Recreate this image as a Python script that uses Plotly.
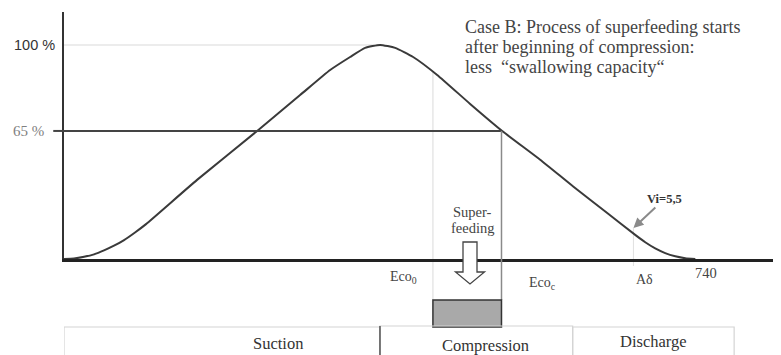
import plotly.graph_objects as go

# ---- data ----
crank_angle = [0, 11.5, 23.1, 34.6, 46.1, 57.6, 69.2, 81.8, 94.5, 153.3, 222.5, 272.0,
               306.6, 329.6, 346.9, 364.2, 381.5, 402.2, 429.9, 467.9, 504.8, 548.6, 586.6,
               625.8, 658.8, 669.6, 681.1, 692.6, 704.2, 715.7, 727.3]
capacity = [12.9, 13.1, 13.8, 14.8, 16.4, 18.3, 20.6, 23.7, 27.1, 45.1, 65.0, 79.6,
            89.8, 95.1, 98.8, 100.0, 98.8, 95.1, 87.8, 76.0, 65.0, 53.3, 42.4,
            31.6, 22.5, 19.7, 17.2, 15.3, 14.0, 13.2, 12.9]

y_tick_vals = [100, 65]
y_tick_text = ["100 %", "65 %"]

x_label_pos = [391, 551, 669, 740]
x_label_text = ["Eco<sub>0</sub>", "Eco<sub>c</sub>", "A\u03b4", "740"]

phase_names = ["Suction", "Compression", "Discharge"]
phase_bounds = [0, 364, 586, 772]

superfeed_start = 425
superfeed_end = 504
a_delta_angle = 656
vi_label = "Vi=5,5"
vi_point = (656, 25.5)
title_lines = ["Case B: Process of superfeeding starts",
               "after beginning of compression:",
               "less  \u201cswallowing capacity\u201c"]
superfeed_lines = ["Super-", "feeding"]

X_RANGE = [0, 826]
Y_RANGE = [12.9, 113.4]
DEG_PER_PX = (X_RANGE[1] - X_RANGE[0]) / 717.0


def yp(v):
    return (v - Y_RANGE[0]) / (Y_RANGE[1] - Y_RANGE[0])


def p(py):
    # page pixel row -> paper coordinate (plot area spans rows 12..259)
    return (259 - py) / 247.0


def xd(px):
    # page pixel column -> axis units (plot area starts at column 64)
    return (px - 64) * DEG_PER_PX


SERIF = "Liberation Serif"
SANS = "Liberation Sans"

fig = go.Figure()
fig.add_trace(go.Scatter(x=crank_angle, y=capacity, mode="lines",
                         line=dict(color="#3a3a3a", width=2, shape="spline", smoothing=0.5),
                         hoverinfo="skip", showlegend=False))

shapes = []
shapes.append(dict(type="line", xref="x", yref="y", x0=0, x1=364, y0=100, y1=100,
                   line=dict(color="#e6e6e6", width=1.5), layer="below"))
shapes.append(dict(type="line", xref="x", yref="y", x0=0, x1=superfeed_end, y0=65, y1=65,
                   line=dict(color="#444444", width=2)))
shapes.append(dict(type="line", xref="paper", yref="y", x0=-0.015, x1=0, y0=65, y1=65,
                   line=dict(color="#444444", width=2)))
shapes.append(dict(type="line", xref="x", yref="paper", x0=superfeed_end, x1=superfeed_end,
                   y0=yp(65), y1=p(300), line=dict(color="#8a8a8a", width=1.5)))
shapes.append(dict(type="line", xref="x", yref="paper", x0=superfeed_start, x1=superfeed_start,
                   y0=yp(89), y1=p(300), line=dict(color="#e0e0e0", width=1.2), layer="below"))
shapes.append(dict(type="line", xref="x", yref="paper", x0=a_delta_angle, x1=a_delta_angle,
                   y0=yp(vi_point[1]), y1=p(266), line=dict(color="#e0e0e0", width=1), layer="below"))
shapes.append(dict(type="rect", xref="x", yref="paper", x0=superfeed_start, x1=superfeed_end,
                   y0=p(300), y1=p(327), fillcolor="#a9a9a9",
                   line=dict(color="#333333", width=1.5)))
box_top = [327, 326, 327]
for i, name in enumerate(phase_names):
    shapes.append(dict(type="rect", xref="x", yref="paper", x0=phase_bounds[i], x1=phase_bounds[i + 1],
                       y0=p(box_top[i]), y1=p(365), fillcolor="rgba(0,0,0,0)",
                       line=dict(color="#d4d4d4", width=1.2)))
shapes.append(dict(type="line", xref="x", yref="paper", x0=phase_bounds[1], x1=phase_bounds[1],
                   y0=p(326), y1=p(360), line=dict(color="#555555", width=1.5)))
# hollow down arrow
ac = xd(470)
sw, hw = 7 * DEG_PER_PX, 14.5 * DEG_PER_PX
path = (f"M {ac - sw},{p(242)} L {ac + sw},{p(242)} L {ac + sw},{p(272)} L {ac + hw},{p(272)} "
        f"L {ac},{p(284)} L {ac - hw},{p(272)} L {ac - sw},{p(272)} Z")
shapes.append(dict(type="path", xref="x", yref="paper", path=path, fillcolor="white",
                   line=dict(color="#444444", width=1.3)))

annotations = []
annotations.append(dict(x=-0.041, y=y_tick_vals[0], xref="paper", yref="y", text=y_tick_text[0],
                        showarrow=False, xanchor="center", yanchor="middle",
                        font=dict(family=SANS, size=14.5, color="#333333")))
annotations.append(dict(x=-0.049, y=y_tick_vals[1], xref="paper", yref="y", text=y_tick_text[1],
                        showarrow=False, xanchor="center", yanchor="middle",
                        font=dict(family=SERIF, size=15, color="#808080")))
x_label_py = [277, 283, 279, 273]
x_label_size = [14, 14, 14, 14.5]
for xv, t, py, fs in zip(x_label_pos, x_label_text, x_label_py, x_label_size):
    annotations.append(dict(x=xv, y=p(py), xref="x", yref="paper", text=t, showarrow=False,
                            xanchor="center", yanchor="middle",
                            font=dict(family=SERIF, size=fs, color="#444444")))
phase_label_x = [278, 485, 653]
phase_label_py = [343, 345, 341]
for name, xp_, py in zip(phase_names, phase_label_x, phase_label_py):
    annotations.append(dict(x=xd(xp_), y=p(py), xref="x", yref="paper", text=name,
                            showarrow=False, xanchor="center", yanchor="middle",
                            font=dict(family=SERIF, size=16.5, color="#333333")))
for line, py in zip(superfeed_lines, [212, 228]):
    annotations.append(dict(x=xd(472), y=p(py), xref="x", yref="paper", text=line, showarrow=False,
                            xanchor="center", yanchor="middle",
                            font=dict(family=SERIF, size=14.5, color="#444444")))
annotations.append(dict(x=vi_point[0], y=vi_point[1], xref="x", yref="y", text="<b>" + vi_label + "</b>",
                        showarrow=True, ax=31, ay=-29, arrowhead=2, arrowsize=1, arrowwidth=2,
                        arrowcolor="#8a8a8a", standoff=0,
                        font=dict(family=SERIF, size=12.5, color="#333333")))
for line, py in zip(title_lines, [27, 47, 67]):
    annotations.append(dict(x=(463 - 64) / 717, y=p(py), xref="paper", yref="paper", text=line,
                            showarrow=False, xanchor="left", yanchor="middle", align="left",
                            font=dict(family=SERIF, size=18, color="#444444")))

fig.update_layout(
    width=773, height=347,
    margin=dict(l=56, r=0, t=4, b=96),
    paper_bgcolor="white", plot_bgcolor="white",
    xaxis=dict(range=X_RANGE, showline=True, linecolor="#222222", linewidth=2.5, showgrid=False,
               zeroline=False, showticklabels=False, ticks=""),
    yaxis=dict(range=Y_RANGE, showline=True, linecolor="#333333", linewidth=2, showgrid=False,
               zeroline=False, showticklabels=False, ticks=""),
    shapes=shapes, annotations=annotations,
)

fig.write_html("out.html")
